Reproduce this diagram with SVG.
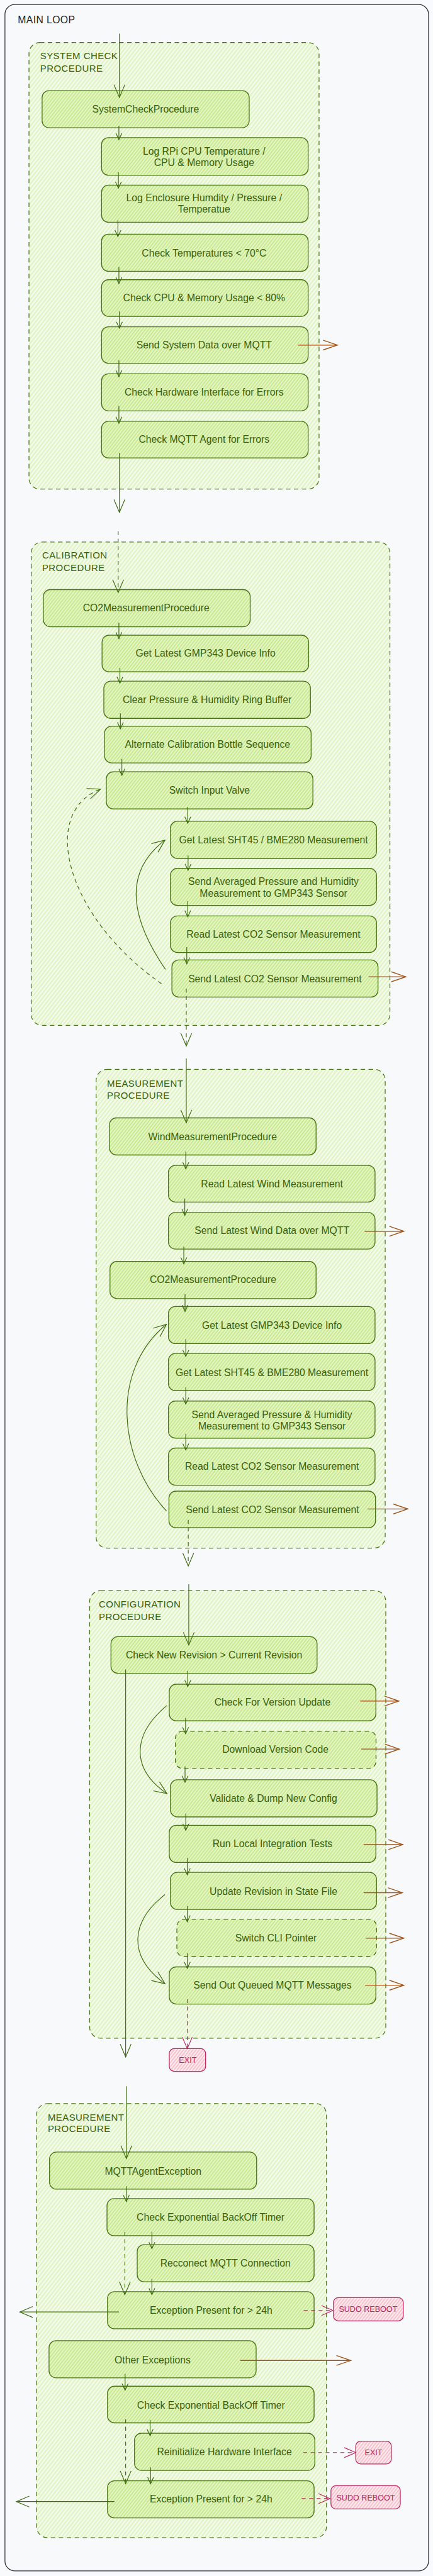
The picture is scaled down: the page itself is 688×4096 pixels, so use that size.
<svg xmlns="http://www.w3.org/2000/svg" width="688" height="4096" viewBox="0 0 688 4096">
<defs>
<style>
.frame{fill:#f8f9fa;stroke:#2e3238;stroke-width:1.6}
.grp{fill:url(#hg);stroke:#4a7516;stroke-width:1.6;stroke-dasharray:9 7}
.nd{fill:url(#hn);stroke:#4a7516;stroke-width:1.7}
.dsh{stroke-dasharray:9 7}
.ex{fill:url(#hr);stroke:#c2255c;stroke-width:1.6}
.t{font-family:"Liberation Sans",Arial,sans-serif;font-size:20px;fill:#3a600c;text-anchor:middle}
.et{font-family:"Liberation Sans",Arial,sans-serif;font-size:16px;fill:#c2255c;text-anchor:middle}
.gl{font-family:"Liberation Sans",Arial,sans-serif;font-size:19px;fill:#3a600c;letter-spacing:0.6px}
.ml{font-family:"Liberation Sans",Arial,sans-serif;font-size:20px;fill:#1e1e1e;letter-spacing:0.5px}
.c{fill:none;stroke:#3f6b12;stroke-width:1.5}
.cd{fill:none;stroke:#3f6b12;stroke-width:1.5;stroke-dasharray:8 7}
.co{fill:none;stroke:#a0561c;stroke-width:1.8}
.cr{fill:none;stroke:#c2255c;stroke-width:1.5;stroke-dasharray:8 7}
</style>
<pattern id="hg" width="6" height="6" patternUnits="userSpaceOnUse" patternTransform="rotate(38)">
<rect width="6" height="6" fill="#f3faea"/><line x1="1" y1="0" x2="1" y2="6" stroke="#d6f0ae" stroke-width="1.6"/>
</pattern>
<pattern id="hn" width="5" height="5" patternUnits="userSpaceOnUse" patternTransform="rotate(38)">
<rect width="5" height="5" fill="#e5f6c6"/><line x1="1" y1="0" x2="1" y2="5" stroke="#bfe47c" stroke-width="1.8"/>
</pattern>
<pattern id="hr" width="5" height="5" patternUnits="userSpaceOnUse" patternTransform="rotate(38)">
<rect width="5" height="5" fill="#fdebef"/><line x1="1" y1="0" x2="1" y2="5" stroke="#f4a9b9" stroke-width="1.5"/>
</pattern>
<marker id="as" markerUnits="userSpaceOnUse" markerWidth="16" markerHeight="14" refX="14" refY="7" orient="auto" overflow="visible">
<path d="M1,1 L14,7 L1,13" fill="none" stroke="#3f6b12" stroke-width="1.5"/>
</marker>
<marker id="am" markerUnits="userSpaceOnUse" markerWidth="30" markerHeight="24" refX="27" refY="12" orient="auto" overflow="visible">
<path d="M1,1 L27,12 L1,23" fill="none" stroke="#3f6b12" stroke-width="1.5"/>
</marker>
<marker id="ao" markerUnits="userSpaceOnUse" markerWidth="32" markerHeight="22" refX="30" refY="11" orient="auto" overflow="visible">
<path d="M1,1 L30,11 L1,21" fill="none" stroke="#a0561c" stroke-width="1.8"/>
</marker>
<marker id="ar" markerUnits="userSpaceOnUse" markerWidth="26" markerHeight="22" refX="24" refY="11" orient="auto" overflow="visible">
<path d="M1,1 L24,11 L1,21" fill="none" stroke="#c2255c" stroke-width="1.5"/>
</marker>
</defs>
<rect width="688" height="4096" fill="#f9fafb"/>
<g transform="scale(0.78719)">
<g id="main-loop">
<rect class="frame" x="10" y="9" width="855" height="5184" rx="20"/>
<text class="ml" x="36" y="47">MAIN LOOP</text>
</g>

<g id="system-check-procedure">
<rect class="grp" x="58.5" y="86" width="585.5" height="902" rx="22"/>
<text class="gl" x="81" y="120">SYSTEM CHECK</text>
<text class="gl" x="81" y="145">PROCEDURE</text>
</g>
<g id="n-systemcheck"><rect class="nd" x="85" y="183" width="418" height="75" rx="14"/><text class="t" x="294" y="227">SystemCheckProcedure</text></g>
<g id="n-logrpi"><rect class="nd" x="205" y="278" width="417" height="76" rx="14"/><text class="t" x="412" y="312">Log RPi CPU Temperature /</text><text class="t" x="412" y="335">CPU &amp; Memory Usage</text></g>
<g id="n-logencl"><rect class="nd" x="205" y="374" width="417" height="75" rx="14"/><text class="t" x="412" y="407">Log Enclosure Humdity / Pressure /</text><text class="t" x="412" y="430">Temperatue</text></g>
<g id="n-checktemp"><rect class="nd" x="205" y="473" width="417" height="75" rx="14"/><text class="t" x="412" y="518">Check Temperatures &lt; 70°C</text></g>
<g id="n-checkcpu"><rect class="nd" x="205" y="565" width="417" height="74" rx="14"/><text class="t" x="412" y="609">Check CPU &amp; Memory Usage &lt; 80%</text></g>
<g id="n-sendsys"><rect class="nd" x="205" y="660" width="417" height="74" rx="14"/><text class="t" x="412" y="704">Send System Data over MQTT</text></g>
<g id="n-checkhw"><rect class="nd" x="205" y="755" width="417" height="75" rx="14"/><text class="t" x="412" y="799">Check Hardware Interface for Errors</text></g>
<g id="n-checkmqtt"><rect class="nd" x="205" y="851" width="417" height="74" rx="14"/><text class="t" x="412" y="894">Check MQTT Agent for Errors</text></g>

<g id="calibration-procedure">
<rect class="grp" x="63" y="1095" width="724" height="976" rx="22"/>
<text class="gl" x="85" y="1128">CALIBRATION</text>
<text class="gl" x="85" y="1153">PROCEDURE</text>
</g>
<g id="n-cal-co2"><rect class="nd" x="87.5" y="1191" width="417.5" height="75" rx="14"/><text class="t" x="295" y="1235">CO2MeasurementProcedure</text></g>
<g id="n-cal-gmp"><rect class="nd" x="206" y="1283" width="417" height="74" rx="14"/><text class="t" x="415" y="1326">Get Latest GMP343 Device Info</text></g>
<g id="n-cal-clear"><rect class="nd" x="209.6" y="1376" width="417" height="75" rx="14"/><text class="t" x="418" y="1420">Clear Pressure &amp; Humidity Ring Buffer</text></g>
<g id="n-cal-alt"><rect class="nd" x="211" y="1467" width="417" height="74" rx="14"/><text class="t" x="419" y="1511">Alternate Calibration Bottle Sequence</text></g>
<g id="n-cal-switch"><rect class="nd" x="214.6" y="1559" width="417" height="75" rx="14"/><text class="t" x="423" y="1603">Switch Input Valve</text></g>
<g id="n-cal-sht"><rect class="nd" x="344" y="1659" width="416" height="75" rx="14"/><text class="t" x="552" y="1704">Get Latest SHT45 / BME280 Measurement</text></g>
<g id="n-cal-sendavg"><rect class="nd" x="344" y="1754" width="416" height="75" rx="14"/><text class="t" x="552" y="1788">Send Averaged Pressure and Humidity</text><text class="t" x="552" y="1811">Measurement to GMP343 Sensor</text></g>
<g id="n-cal-read"><rect class="nd" x="344" y="1850" width="416" height="74" rx="14"/><text class="t" x="552" y="1894">Read Latest CO2 Sensor Measurement</text></g>
<g id="n-cal-send"><rect class="nd" x="347" y="1939" width="416" height="75" rx="14"/><text class="t" x="555" y="1984">Send Latest CO2 Sensor Measurement</text></g>

<g id="measurement-procedure">
<rect class="grp" x="194" y="2160" width="583.5" height="967" rx="22"/>
<text class="gl" x="216" y="2195">MEASUREMENT</text>
<text class="gl" x="216" y="2219">PROCEDURE</text>
</g>
<g id="n-m-wind"><rect class="nd" x="221" y="2258" width="417" height="75" rx="14"/><text class="t" x="429" y="2303">WindMeasurementProcedure</text></g>
<g id="n-m-readwind"><rect class="nd" x="340" y="2354" width="417" height="74" rx="14"/><text class="t" x="549" y="2398">Read Latest Wind Measurement</text></g>
<g id="n-m-sendwind"><rect class="nd" x="340" y="2449" width="417" height="74" rx="14"/><text class="t" x="549" y="2493">Send Latest Wind Data over MQTT</text></g>
<g id="n-m-co2"><rect class="nd" x="222" y="2548" width="416" height="75" rx="14"/><text class="t" x="430" y="2592">CO2MeasurementProcedure</text></g>
<g id="n-m-gmp"><rect class="nd" x="340" y="2639" width="417" height="75" rx="14"/><text class="t" x="549" y="2684">Get Latest GMP343 Device Info</text></g>
<g id="n-m-sht"><rect class="nd" x="340" y="2734" width="417" height="75" rx="14"/><text class="t" x="549" y="2779">Get Latest SHT45 &amp; BME280 Measurement</text></g>
<g id="n-m-sendavg"><rect class="nd" x="340" y="2830" width="417" height="75" rx="14"/><text class="t" x="549" y="2864">Send Averaged Pressure &amp; Humidity</text><text class="t" x="549" y="2887">Measurement to GMP343 Sensor</text></g>
<g id="n-m-read"><rect class="nd" x="340" y="2925" width="417" height="75" rx="14"/><text class="t" x="549" y="2969">Read Latest CO2 Sensor Measurement</text></g>
<g id="n-m-send"><rect class="nd" x="341" y="3012" width="417" height="74" rx="14"/><text class="t" x="550" y="3056">Send Latest CO2 Sensor Measurement</text></g>

<g id="configuration-procedure">
<rect class="grp" x="181" y="3213" width="597.7" height="904" rx="22"/>
<text class="gl" x="199.5" y="3247">CONFIGURATION</text>
<text class="gl" x="199.5" y="3272">PROCEDURE</text>
</g>
<g id="n-c-checknew"><rect class="nd" x="224" y="3306" width="416" height="74" rx="14"/><text class="t" x="432" y="3350">Check New Revision &gt; Current Revision</text></g>
<g id="n-c-checkver"><rect class="nd" x="341.7" y="3402" width="417" height="74" rx="14"/><text class="t" x="550" y="3445">Check For Version Update</text></g>
<g id="n-c-download"><rect class="nd dsh" x="354" y="3497" width="405" height="75" rx="14"/><text class="t" x="556" y="3541">Download Version Code</text></g>
<g id="n-c-validate"><rect class="nd" x="344" y="3595" width="417" height="75" rx="14"/><text class="t" x="552" y="3639">Validate &amp; Dump New Config</text></g>
<g id="n-c-run"><rect class="nd" x="341.7" y="3687" width="417" height="75" rx="14"/><text class="t" x="550" y="3731">Run Local Integration Tests</text></g>
<g id="n-c-update"><rect class="nd" x="344" y="3782" width="416" height="75" rx="14"/><text class="t" x="552" y="3827">Update Revision in State File</text></g>
<g id="n-c-switchcli"><rect class="nd dsh" x="357" y="3877" width="403" height="75" rx="14"/><text class="t" x="557" y="3922">Switch CLI Pointer</text></g>
<g id="n-c-sendout"><rect class="nd" x="341.7" y="3973" width="417" height="75" rx="14"/><text class="t" x="550" y="4017">Send Out Queued MQTT Messages</text></g>
<g id="n-exit1"><rect class="ex" x="341.7" y="4138" width="73.3" height="46" rx="10"/><text class="et" x="379" y="4167">EXIT</text></g>

<g id="exception-procedure">
<rect class="grp" x="74" y="4249" width="585" height="877" rx="22"/>
<text class="gl" x="96.4" y="4283">MEASUREMENT</text>
<text class="gl" x="96.4" y="4307">PROCEDURE</text>
</g>
<g id="n-e-mqttexc"><rect class="nd" x="100" y="4347" width="418" height="75" rx="14"/><text class="t" x="309" y="4393">MQTTAgentException</text></g>
<g id="n-e-backoff1"><rect class="nd" x="216" y="4441" width="418" height="75" rx="14"/><text class="t" x="425" y="4485">Check Exponential BackOff Timer</text></g>
<g id="n-e-reconnect"><rect class="nd" x="277" y="4534" width="357" height="75" rx="14"/><text class="t" x="455" y="4578">Recconect MQTT Connection</text></g>
<g id="n-e-exc24a"><rect class="nd" x="217" y="4629" width="417" height="75" rx="14"/><text class="t" x="426" y="4674">Exception Present for &gt; 24h</text></g>
<g id="n-reboot1"><rect class="ex" x="673" y="4641" width="141" height="47" rx="10"/><text class="et" x="743" y="4670">SUDO REBOOT</text></g>
<g id="n-e-other"><rect class="nd" x="99" y="4728" width="418" height="75" rx="14"/><text class="t" x="308" y="4774">Other Exceptions</text></g>
<g id="n-e-backoff2"><rect class="nd" x="217" y="4820" width="417" height="74" rx="14"/><text class="t" x="426" y="4865">Check Exponential BackOff Timer</text></g>
<g id="n-e-reinit"><rect class="nd" x="271.5" y="4915" width="364" height="75" rx="14"/><text class="t" x="453" y="4960">Reinitialize Hardware Interface</text></g>
<g id="n-exit2"><rect class="ex" x="718" y="4931" width="72" height="46" rx="10"/><text class="et" x="754" y="4959">EXIT</text></g>
<g id="n-e-exc24b"><rect class="nd" x="217" y="5011" width="417" height="75" rx="14"/><text class="t" x="426" y="5055">Exception Present for &gt; 24h</text></g>
<g id="n-reboot2"><rect class="ex" x="668" y="5021" width="140" height="47" rx="10"/><text class="et" x="738" y="5051">SUDO REBOOT</text></g>

<g id="connectors">
<path class="c" d="M241,68 V197" marker-end="url(#am)"/>
<path class="c" d="M240,254 V282" marker-end="url(#as)"/>
<path class="c" d="M239,348 V380" marker-end="url(#as)"/>
<path class="c" d="M238,445 V478" marker-end="url(#as)"/>
<path class="c" d="M240,539 V573" marker-end="url(#as)"/>
<path class="c" d="M241,629 V663" marker-end="url(#as)"/>
<path class="c" d="M240,728 V761" marker-end="url(#as)"/>
<path class="c" d="M240,820 V855" marker-end="url(#as)"/>
<path class="co" d="M602,697 H681" marker-end="url(#ao)"/>
<path class="c" d="M241,915 V1035" marker-end="url(#am)"/>
<path class="cd" d="M238.5,1073 V1197" marker-end="url(#am)"/>

<path class="c" d="M240,1258 V1290" marker-end="url(#as)"/>
<path class="c" d="M242,1349 V1380" marker-end="url(#as)"/>
<path class="c" d="M243,1441 V1472" marker-end="url(#as)"/>
<path class="c" d="M246,1533 V1566" marker-end="url(#as)"/>
<path class="c" d="M379,1630 V1663" marker-end="url(#as)"/>
<path class="c" d="M379.6,1728 V1758" marker-end="url(#as)"/>
<path class="c" d="M379,1820 V1852" marker-end="url(#as)"/>
<path class="c" d="M377,1913 V1947" marker-end="url(#as)"/>
<path class="co" d="M744,1973 H819" marker-end="url(#ao)"/>
<path class="c" d="M334,1958 C260,1850 250,1760 333,1697" marker-end="url(#am)"/>
<path class="cd" d="M326,1987 C130,1850 80,1640 203,1594" marker-end="url(#am)"/>
<path class="cd" d="M376,1997 V2113" marker-end="url(#am)"/>
<path class="c" d="M376,2138 V2268" marker-end="url(#am)"/>

<path class="c" d="M375,2326 V2361" marker-end="url(#as)"/>
<path class="c" d="M373,2421 V2455" marker-end="url(#as)"/>
<path class="c" d="M371,2518 V2553" marker-end="url(#as)"/>
<path class="co" d="M736,2487 H815" marker-end="url(#ao)"/>
<path class="c" d="M373.5,2614 V2649" marker-end="url(#as)"/>
<path class="c" d="M375,2705 V2740" marker-end="url(#as)"/>
<path class="c" d="M375,2802 V2836" marker-end="url(#as)"/>
<path class="c" d="M375,2896 V2929" marker-end="url(#as)"/>
<path class="co" d="M742,3048 H823" marker-end="url(#ao)"/>
<path class="c" d="M336,3052 C240,2950 220,2770 336,2675" marker-end="url(#am)"/>
<path class="cd" d="M380,3070 V3163" marker-end="url(#am)"/>
<path class="c" d="M381,3200 V3323" marker-end="url(#am)"/>

<path class="c" d="M379,3375 V3407" marker-end="url(#as)"/>
<path class="co" d="M727,3436 H805" marker-end="url(#ao)"/>
<path class="c" d="M374.6,3470 V3502" marker-end="url(#as)"/>
<path class="co" d="M729,3533 H806" marker-end="url(#ao)"/>
<path class="c" d="M373.5,3568 V3600" marker-end="url(#as)"/>
<path class="c" d="M337,3445 C270,3500 260,3570 337,3623" marker-end="url(#am)"/>
<path class="c" d="M375,3663 V3697" marker-end="url(#as)"/>
<path class="co" d="M734,3726 H813" marker-end="url(#ao)"/>
<path class="c" d="M378,3753 V3787" marker-end="url(#as)"/>
<path class="co" d="M734,3823 H812" marker-end="url(#ao)"/>
<path class="c" d="M378,3850 V3882" marker-end="url(#as)"/>
<path class="co" d="M738,3915 H815" marker-end="url(#ao)"/>
<path class="c" d="M333,3827 C265,3880 255,3950 333,4007" marker-end="url(#am)"/>
<path class="c" d="M378,3945 V3976" marker-end="url(#as)"/>
<path class="co" d="M737,4010 H815" marker-end="url(#ao)"/>
<path class="cr" d="M378,4038 V4138" marker-end="url(#ar)"/>
<path class="c" d="M253.6,3372 V4155" marker-end="url(#am)"/>
<path class="c" d="M255,4214 V4360" marker-end="url(#am)"/>

<path class="c" d="M255,4416 V4447" marker-end="url(#as)"/>
<path class="c" d="M306.6,4508 V4542" marker-end="url(#as)"/>
<path class="c" d="M306.6,4603 V4635" marker-end="url(#as)"/>
<path class="cd" d="M252,4508 V4635" marker-end="url(#am)"/>
<path class="c" d="M240,4670 H40" marker-end="url(#am)"/>
<path class="cr" d="M613,4667 H672" marker-end="url(#ar)"/>
<path class="co" d="M485,4768 H708" marker-end="url(#ao)"/>
<path class="c" d="M252.5,4795 V4828" marker-end="url(#as)"/>
<path class="c" d="M303,4888 V4920" marker-end="url(#as)"/>
<path class="cr" d="M612,4954 H718" marker-end="url(#ar)"/>
<path class="c" d="M304,4984 V5017" marker-end="url(#as)"/>
<path class="cd" d="M253.6,4887 V5017" marker-end="url(#am)"/>
<path class="c" d="M231,5053 H33" marker-end="url(#am)"/>
<path class="cr" d="M609,5047 H666" marker-end="url(#ar)"/>
</g>
</g>
</svg>
